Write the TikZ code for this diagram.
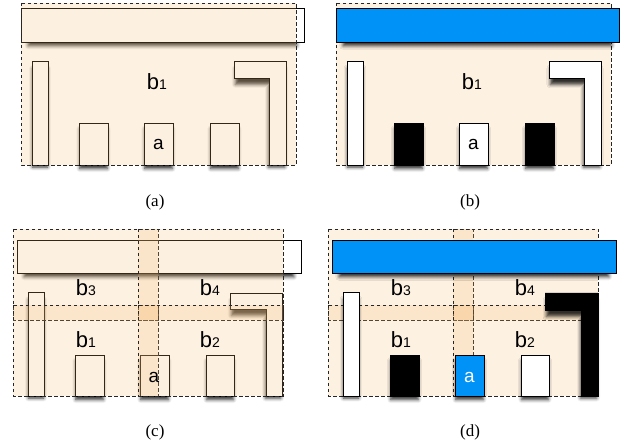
\documentclass[tikz,border=0pt]{standalone}
\usepackage{fontspec}
\setmainfont{Liberation Serif}
\newfontfamily\hv{Liberation Sans}
\usetikzlibrary{shadows.blur}
\definecolor{regorange}{RGB}{245,188,117}
\definecolor{skyblue}{RGB}{0,146,246}
\newcommand\bsub[1]{{\hv\fontsize{22}{22}\selectfont b\fontsize{14}{14}\selectfont #1}}
\tikzset{
  shp/.style={draw=black, line width=0.9pt, fill=white,
    blur shadow={shadow xshift=0pt, shadow yshift=-5pt, shadow blur radius=3.5pt, shadow opacity=80, shadow scale=0.95}},
  region/.style={draw=black!85, dash pattern=on 3.5pt off 2.5pt, line width=0.8pt,
    fill=regorange, fill opacity=0.21},
  lbl/.style={anchor=base, inner sep=0pt},
  alab/.style={anchor=base, inner sep=0pt, font=\hv\fontsize{19}{19}\selectfont},
  captext/.style={inner sep=0pt, font=\fontsize{17}{17}\selectfont}
}
\begin{document}
\begin{tikzpicture}[x=1pt,y=-1pt]
\useasboundingbox (0,0) rectangle (622,446);
% ---------- (a) ----------
\draw[shp] (21,8) rectangle (304,42);
\draw[shp] (32,61) rectangle (48,165);
\draw[shp] (79,123) rectangle (108,165);
\draw[shp] (144,123) rectangle (173,165);
\draw[shp] (210,123) rectangle (239,165);
\draw[shp] (234,61) -- (286,61) -- (286,165) -- (269,165) -- (269,78) -- (234,78) -- cycle;
\draw[region] (21,3) rectangle (296,165);
\node[lbl] (ab1) at (157,90) {\bsub{1}};
\node[alab] (aa) at (158.5,150) {a};
\node[captext] (capa) at (155,202) {(a)};
% ---------- (b) ----------
\begin{scope}[xshift=315pt]
\draw[region] (21,3) rectangle (296,165);
\draw[shp, fill=skyblue] (21,8) rectangle (304,42);
\draw[shp] (32,61) rectangle (48,165);
\draw[shp, fill=black] (79,123) rectangle (108,165);
\draw[shp] (144,123) rectangle (173,165);
\draw[shp, fill=black] (210,123) rectangle (239,165);
\draw[shp] (234,61) -- (286,61) -- (286,165) -- (269,165) -- (269,78) -- (234,78) -- cycle;
\node[lbl] (bb1) at (157,90) {\bsub{1}};
\node[alab] (ba) at (158.5,150) {a};
\node[captext] (capb) at (155,202) {(b)};
\end{scope}
% ---------- (c) ----------
\draw[shp] (17,240) rectangle (301,273);
\draw[shp] (28,292) rectangle (44,396);
\draw[shp] (75,355) rectangle (104,396);
\draw[shp] (140,355) rectangle (169,396);
\draw[shp] (206,355) rectangle (234,396);
\draw[shp] (230,293) -- (282,293) -- (282,396) -- (266,396) -- (266,309) -- (230,309) -- cycle;
\draw[region] (13,229) rectangle (158,320);
\draw[region] (138,229) rectangle (283,320);
\draw[region] (13,305) rectangle (158,396);
\draw[region] (138,305) rectangle (283,396);
\node[lbl] (cb3) at (86,296) {\bsub{3}};
\node[lbl] (cb4) at (210,296) {\bsub{4}};
\node[lbl] (cb1) at (86,348) {\bsub{1}};
\node[lbl] (cb2) at (210,348) {\bsub{2}};
\node[alab] (ca) at (154,383) {a};
\node[captext] (capc) at (155,432) {(c)};
% ---------- (d) ----------
\begin{scope}[xshift=315pt]
\draw[region] (13,229) rectangle (158,320);
\draw[region] (138,229) rectangle (283,320);
\draw[region] (13,305) rectangle (158,396);
\draw[region] (138,305) rectangle (283,396);
\draw[shp, fill=skyblue] (17,240) rectangle (301,273);
\draw[shp] (28,292) rectangle (44,396);
\draw[shp, fill=black] (75,355) rectangle (104,396);
\draw[shp, fill=skyblue] (140,355) rectangle (169,396);
\draw[shp] (206,355) rectangle (234,396);
\draw[shp, fill=black] (230,293) -- (283,293) -- (283,396) -- (266,396) -- (266,310) -- (230,310) -- cycle;
\node[lbl] (db3) at (86,296) {\bsub{3}};
\node[lbl] (db4) at (210,296) {\bsub{4}};
\node[lbl] (db1) at (86,348) {\bsub{1}};
\node[lbl] (db2) at (210,348) {\bsub{2}};
\node[alab, text=white] (da) at (154.5,383) {a};
\node[captext] (capd) at (155,432) {(d)};
\end{scope}
\end{tikzpicture}
\end{document}
